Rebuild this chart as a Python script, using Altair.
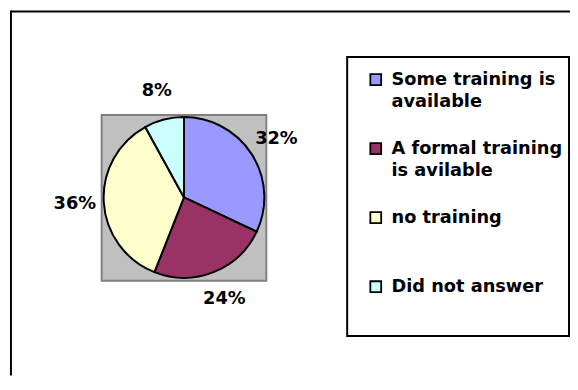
import altair as alt
import pandas as pd

# ---- data ----
categories = [
    "Some training is available",
    "A formal training is avilable",
    "no training",
    "Did not answer",
]
shares = [32, 24, 36, 8]
colors = ["#9999FF", "#993366", "#FFFFCC", "#CCFFFF"]

df = pd.DataFrame({
    "category": categories,
    "share": shares,
    "order": list(range(len(categories))),
    "label": [f"{v}%" for v in shares],
})
one = pd.DataFrame({"k": [0]})

FONT = "DejaVu Sans"
CX, CY = 175.5, 189.5  # pie centre inside the plot area

label_expr = (
    "datum.label == 'Some training is available' ? ['Some training is', 'available'] : "
    "datum.label == 'A formal training is avilable' ? ['A formal training', 'is avilable'] : "
    "datum.label == 'no training' ? ['no training', ' '] : datum.label"
)

color = alt.Color(
    "category:N",
    scale=alt.Scale(domain=categories, range=colors),
    legend=alt.Legend(
        title=None,
        orient="none",
        legendX=361,
        legendY=61,
        padding=0,
        labelExpr=label_expr,
        labelFont=FONT,
        labelFontSize=18,
        labelFontWeight="bold",
        labelColor="black",
        labelLimit=0,
        labelOffset=7,
        symbolType="square",
        symbolSize=121,
        symbolStrokeColor="black",
        symbolStrokeWidth=1.8,
        rowPadding=28,
    ),
)

theta = alt.Theta("share:Q", stack=True)
order = alt.Order("order:Q")

top_rule = alt.Chart(one).mark_rule(color="black", strokeWidth=2).encode(
    x=alt.value(0), x2=alt.value(567), y=alt.value(1)
)
left_rule = alt.Chart(one).mark_rule(color="black", strokeWidth=2).encode(
    x=alt.value(0), y=alt.value(0), y2=alt.value(370)
)
plot_bg = alt.Chart(one).mark_rect(fill="#C0C0C0", stroke="#808080", strokeWidth=2).encode(
    x=alt.value(92), x2=alt.value(259), y=alt.value(106), y2=alt.value(274)
)
legend_box = alt.Chart(one).mark_rect(filled=False, color="black", strokeWidth=2).encode(
    x=alt.value(341), x2=alt.value(566), y=alt.value(47), y2=alt.value(330)
)

pie = alt.Chart(df).mark_arc(outerRadius=81.5, stroke="black", strokeWidth=2).encode(
    theta=theta, color=color, order=order,
    x=alt.value(CX), y=alt.value(CY),
)
labels = alt.Chart(df).mark_text(
    radius=111, font=FONT, fontSize=18, fontWeight="bold", color="black"
).encode(
    theta=theta, order=order, text="label:N",
    x=alt.value(CX), y=alt.value(CY),
)

chart = (
    alt.layer(top_rule, left_rule, plot_bg, legend_box, pie, labels)
    .properties(
        width=567,
        height=370,
        padding={"left": 3, "top": 0, "right": 0, "bottom": 0},
        autosize=alt.AutoSizeParams(type="none"),
        background="white",
    )
    .configure(style={"guide-label": {"lineHeight": 23}})
    .configure_view(strokeWidth=0)
)

chart.save("out.html", embed_options={"renderer": "svg", "actions": False})
